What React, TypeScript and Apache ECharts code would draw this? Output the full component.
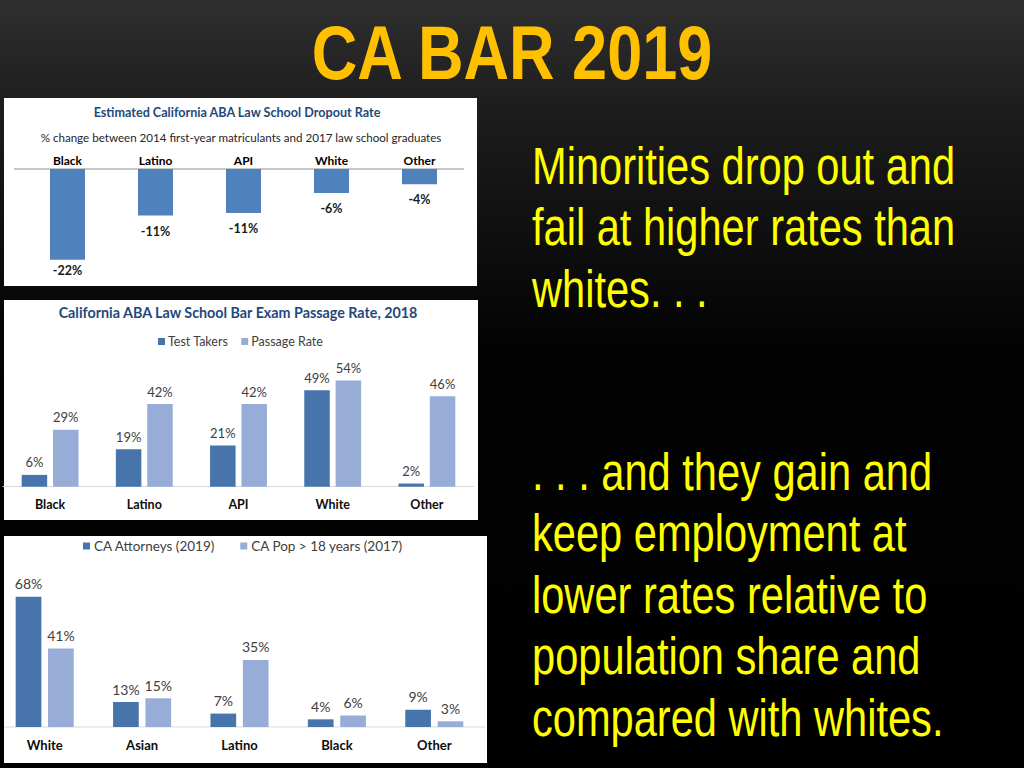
import React, { useEffect, useRef } from "react";
import * as echarts from "echarts";

// ---- Data ----
const dropCategories = ["Black", "Latino", "API", "White", "Other"];
const dropValues = [-22, -11.3, -10.7, -5.8, -3.7];

const passCategories = ["Black", "Latino", "API", "White", "Other"];
const testTakers = [6, 19, 21, 49, 1.6];
const passageRate = [29, 42, 42, 54, 46];

const attyCategories = ["White", "Asian", "Latino", "Black", "Other"];
const caAttorneys = [68, 13, 7, 4, 9];
const caPop = [41, 15, 35, 6, 3];

const slideTitle = "CA BAR 2019";
const para1 = ["Minorities drop out and", "fail at higher rates than", "whites. . ."];
const para2 = [
  ". . . and they gain and",
  "keep employment at",
  "lower rates relative to",
  "population share and",
  "compared with whites.",
];

const chart1Title = "Estimated California ABA Law School Dropout Rate";
const chart1Sub = "% change between 2014 first-year matriculants and 2017 law school graduates";
const chart2Title = "California ABA Law School Bar Exam Passage Rate, 2018";

const DARK = "#4774AB";
const LIGHT = "#97ADD7";
const F = "Lato, 'Open Sans', sans-serif";

const pct = (p: any) => Math.round(p.value) + "%";

export default function App() {
  const ref = useRef<HTMLDivElement>(null);
  useEffect(() => {
    if (!ref.current) return;
    const chart = echarts.init(ref.current, undefined, { renderer: "svg" });

    const mkLine = (t: string, y: number) => ({
      type: "text",
      x: 532,
      y,
      scaleX: 0.8,
      z: 100,
      style: {
        text: t,
        fill: "#FFFF00",
        font: "52px 'Liberation Sans', Arial, sans-serif",
        textAlign: "left",
        textVerticalAlign: "middle",
      },
    });
    const p1Lines = para1.map((t, i) => mkLine(t, 165.5 + i * 61.5));
    const p2Lines = para2.map((t, i) => mkLine(t, 471.5 + i * 61.5));

    const option: any = {
      animation: false,
      backgroundColor: new echarts.graphic.LinearGradient(0, 0, 0, 1, [
        { offset: 0, color: "#2f2f2f" },
        { offset: 0.15, color: "#1c1c1c" },
        { offset: 0.45, color: "#030303" },
        { offset: 1, color: "#000000" },
      ]),
      graphic: [
        { type: "rect", z: -10, shape: { x: 4, y: 98, width: 473, height: 188 }, style: { fill: "#ffffff" } },
        { type: "rect", z: -10, shape: { x: 4, y: 300, width: 474, height: 220 }, style: { fill: "#ffffff" } },
        { type: "rect", z: -10, shape: { x: 4, y: 536, width: 483, height: 227 }, style: { fill: "#ffffff" } },
        { type: "line", z: 1, shape: { x1: 14, y1: 169, x2: 464, y2: 169 }, style: { stroke: "#C8C8C8", lineWidth: 2 } },
        { type: "line", z: 1, shape: { x1: 4, y1: 727, x2: 485, y2: 727 }, style: { stroke: "#D9D9D9", lineWidth: 1 } },
        {
          type: "text", x: 512, y: 53, scaleX: 0.83, z: 100,
          style: {
            text: slideTitle, fill: "#FFC000",
            font: "bold 76px 'Liberation Sans', Arial, sans-serif",
            textAlign: "center", textVerticalAlign: "middle",
          },
        },
        ...p1Lines,
        ...p2Lines,
        {
          type: "text", x: 237, y: 112, z: 100,
          style: { text: chart1Title, fill: "#1F497D", font: `bold 12.6px ${F}`, textAlign: "center", textVerticalAlign: "middle" },
        },
        {
          type: "text", x: 241, y: 137, z: 100,
          style: { text: chart1Sub, fill: "#262626", font: `11.6px ${F}`, textAlign: "center", textVerticalAlign: "middle" },
        },
        {
          type: "text", x: 238, y: 312, z: 100,
          style: { text: chart2Title, fill: "#1F497D", font: `bold 14.3px ${F}`, textAlign: "center", textVerticalAlign: "middle" },
        },
      ],
      legend: [
        {
          data: ["Test Takers", "Passage Rate"],
          left: 158, top: 335, padding: 0,
          itemWidth: 7, itemHeight: 7, itemGap: 13, icon: "rect",
          textStyle: { fontFamily: F, fontSize: 12.5, color: "#404040", padding: [0, 0, 0, -2] },
        },
        {
          data: ["CA Attorneys (2019)", "CA Pop > 18 years (2017)"],
          left: 83, top: 539, padding: 0,
          itemWidth: 7, itemHeight: 7, itemGap: 25, icon: "rect",
          textStyle: { fontFamily: F, fontSize: 13.5, color: "#404040", padding: [0, 0, 0, -1] },
        },
      ],
      grid: [
        { left: 23.5, width: 440, top: 169, height: 103, outerBoundsMode: "none" },
        { left: 3, width: 471, top: 368.7, height: 118, outerBoundsMode: "none" },
        { left: -4, width: 487, top: 573.8, height: 153.2, outerBoundsMode: "none" },
      ],
      xAxis: [
        {
          gridIndex: 0, type: "category", data: dropCategories, position: "top",
          axisLine: { show: false }, axisTick: { show: false },
          axisLabel: { fontFamily: F, fontWeight: "bold", fontSize: 12, color: "#000", margin: 3 },
        },
        {
          gridIndex: 1, type: "category", data: passCategories,
          axisLine: { lineStyle: { color: "#D9D9D9", width: 1 } }, axisTick: { show: false },
          axisLabel: { fontFamily: F, fontWeight: "bold", fontSize: 12.5, color: "#0d0d0d", margin: 11 },
        },
        {
          gridIndex: 2, type: "category", data: attyCategories,
          axisLine: { show: false }, axisTick: { show: false },
          axisLabel: { fontFamily: F, fontWeight: "bold", fontSize: 13, color: "#0d0d0d", margin: 11 },
        },
      ],
      yAxis: [
        { gridIndex: 0, type: "value", min: -25, max: 0, show: false },
        { gridIndex: 1, type: "value", min: 0, max: 60, show: false },
        { gridIndex: 2, type: "value", min: 0, max: 80, show: false },
      ],
      series: [
        {
          type: "bar", name: "Dropout", xAxisIndex: 0, yAxisIndex: 0,
          data: dropValues.map((v, i) => (i === 0 ? { value: v, label: { distance: 4 } } : v)),
          barWidth: 35, itemStyle: { color: "#4F81BD" },
          label: {
            show: true, position: "bottom", distance: 9, formatter: pct,
            fontFamily: F, fontWeight: "bold", fontSize: 12.5, color: "#1a1a1a",
          },
        },
        {
          type: "bar", name: "Test Takers", xAxisIndex: 1, yAxisIndex: 1,
          data: testTakers, barWidth: 25.5, barGap: "23%", itemStyle: { color: DARK },
          label: { show: true, position: "top", distance: 6, formatter: pct, fontFamily: F, fontSize: 13, color: "#404040" },
        },
        {
          type: "bar", name: "Passage Rate", xAxisIndex: 1, yAxisIndex: 1,
          data: passageRate, barWidth: 25.5, barGap: "23%", itemStyle: { color: LIGHT },
          label: { show: true, position: "top", distance: 6, formatter: pct, fontFamily: F, fontSize: 13, color: "#404040" },
        },
        {
          type: "bar", name: "CA Attorneys (2019)", xAxisIndex: 2, yAxisIndex: 2,
          data: caAttorneys, barWidth: 25.7, barGap: "26%", itemStyle: { color: DARK },
          label: { show: true, position: "top", distance: 6, formatter: pct, fontFamily: F, fontSize: 14, color: "#404040" },
        },
        {
          type: "bar", name: "CA Pop > 18 years (2017)", xAxisIndex: 2, yAxisIndex: 2,
          data: caPop, barWidth: 25.7, barGap: "26%", itemStyle: { color: LIGHT },
          label: { show: true, position: "top", distance: 6, formatter: pct, fontFamily: F, fontSize: 14, color: "#404040" },
        },
      ],
    };
    chart.setOption(option);
    return () => chart.dispose();
  }, []);
  return (
    <div
      ref={ref}
      style={{ position: "fixed", left: 0, top: 0, width: 1024, height: 768 }}
    />
  );
}
